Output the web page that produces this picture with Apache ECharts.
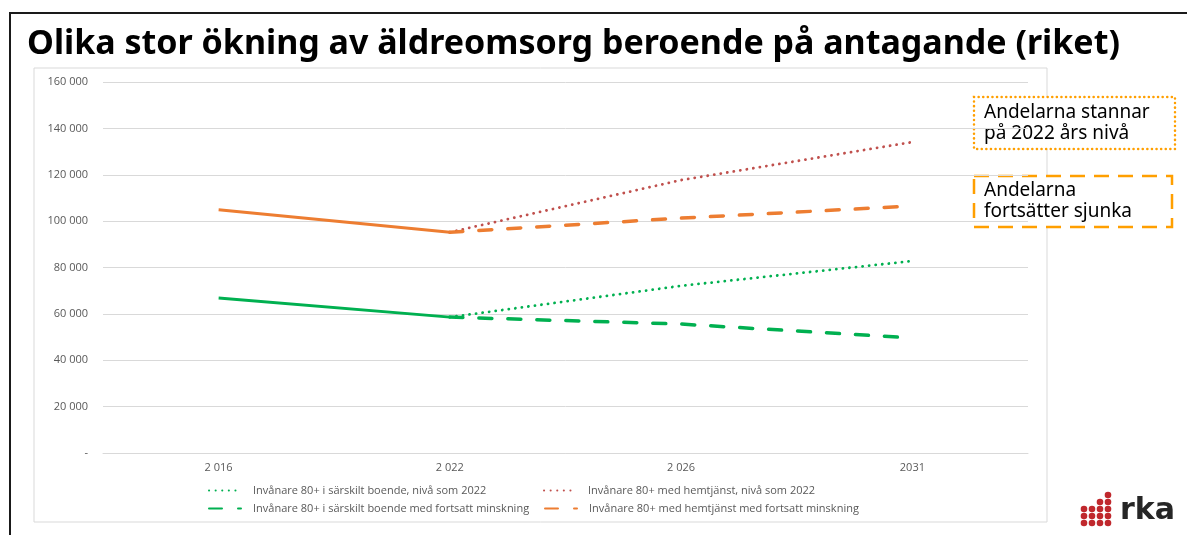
<!DOCTYPE html>
<html>
<head>
<meta charset="utf-8">
<script src="https://cdn.jsdelivr.net/npm/echarts@6/dist/echarts.min.js"></script>
<style>
  html, body { margin: 0; padding: 0; background: #fff; }
  #chart { width: 1187px; height: 535px; }
</style>
</head>
<body>
<div id="chart"></div>
<script>
// år (kategorier)
var years = ['2 016', '2 022', '2 026', '2031'];

// faktiska värden fram till 2022
var boendeHist = [66800, 58600, null, null];
var hemtjanstHist = [104900, 95200, null, null];

// prognoser från 2022
var boendeNiva = [null, 58600, 72100, 82800];
var hemtjanstNiva = [null, 95200, 117700, 134100];
var boendeMinsk = [null, 58600, 55600, 49600];
var hemtjanstMinsk = [null, 95200, 101300, 106500];

var legendNames = [
    'Invånare 80+ i särskilt boende, nivå som 2022',
    'Invånare 80+ med hemtjänst, nivå som 2022',
    'Invånare 80+ i särskilt boende med fortsatt minskning',
    'Invånare 80+ med hemtjänst med fortsatt minskning'
];

var green = '#00B050';
var orange = '#ED7D31';
var red = '#C0504D';
var boxOrange = '#FF9F00';

var chart = echarts.init(document.getElementById('chart'));

function fmt(v) {
    if (v === 0) return '-';
    return String(v).replace(/\B(?=(\d{3})+(?!\d))/g, ' ');
}

function legendAt(name, left, top) {
    return {
        data: [name],
        left: left,
        top: top,
        padding: 0,
        itemWidth: 32,
        itemHeight: 10,
        itemStyle: { opacity: 0 },
        textStyle: { color: '#595959', fontSize: 11, fontFamily: 'Open Sans', padding: [0, 0, 0, 7] }
    };
}

// logga: prickar
var dots = [];
var cols = [1084, 1092, 1100, 1108];
var counts = [3, 3, 4, 5];
cols.forEach(function(x, i) {
    for (var k = 0; k < counts[i]; k++) {
        dots.push({
            type: 'circle',
            shape: { cx: x, cy: 523 - k * 7, r: 3.3 },
            style: { fill: '#C0282D' }
        });
    }
});

var dotted = [0.1, 6.5];
var dashed = [13, 16];

var option = {
    animation: false,
    textStyle: { fontFamily: 'Open Sans' },
    title: {
        text: 'Olika stor ökning av äldreomsorg beroende på antagande (riket)',
        left: 22,
        top: 22,
        textStyle: { fontSize: 34, fontWeight: 'bold', color: '#000', fontFamily: 'Noto Sans' }
    },
    grid: { left: 103, right: 159, top: 82, bottom: 82 },
    legend: [
        legendAt(legendNames[0], 208, 485),
        legendAt(legendNames[1], 543, 485),
        legendAt(legendNames[2], 208, 503),
        legendAt(legendNames[3], 544, 503)
    ],
    xAxis: {
        type: 'category',
        data: years,
        boundaryGap: true,
        axisLine: { lineStyle: { color: '#D9D9D9' } },
        axisTick: { show: false },
        axisLabel: { color: '#595959', fontSize: 11, margin: 9 }
    },
    yAxis: {
        type: 'value',
        min: 0,
        max: 160000,
        interval: 20000,
        axisLine: { show: false },
        axisTick: { show: false },
        splitLine: { lineStyle: { color: '#D9D9D9' } },
        axisLabel: { color: '#595959', fontSize: 11, margin: 15, formatter: fmt }
    },
    graphic: [
        {
            type: 'rect',
            shape: { x: 10, y: 13, width: 1200, height: 560 },
            style: { fill: 'none', stroke: '#1a1a1a', lineWidth: 2 }
        },
        {
            type: 'rect',
            shape: { x: 34, y: 68, width: 1013, height: 454 },
            style: { fill: 'none', stroke: '#D9D9D9', lineWidth: 1 }
        },
        {
            type: 'rect',
            shape: { x: 974, y: 97, width: 201, height: 52 },
            style: { fill: '#fff', stroke: boxOrange, lineWidth: 2.5, lineDash: [0.1, 4.5], lineCap: 'round' }
        },
        {
            type: 'text',
            left: 984,
            top: 102,
            style: { text: 'Andelarna stannar\npå 2022 års nivå', fill: '#000', font: '19px "Noto Sans"', lineHeight: 21 }
        },
        {
            type: 'rect',
            shape: { x: 974, y: 176, width: 198, height: 51 },
            style: { fill: '#fff', stroke: boxOrange, lineWidth: 2.5, lineDash: [15, 9] }
        },
        {
            type: 'text',
            left: 984,
            top: 180,
            style: { text: 'Andelarna\nfortsätter sjunka', fill: '#000', font: '19px "Noto Sans"', lineHeight: 21 }
        },
        {
            type: 'group',
            children: dots
        },
        {
            type: 'text',
            left: 1120,
            top: 496,
            style: { text: 'rka', fill: '#262626', font: 'bold 30px "DejaVu Sans"' }
        }
    ],
    series: [
        {
            name: 'hist-boende',
            type: 'line',
            data: boendeHist,
            symbol: 'none',
            lineStyle: { color: green, width: 3 },
            itemStyle: { color: green },
            z: 3
        },
        {
            name: 'hist-hemtjanst',
            type: 'line',
            data: hemtjanstHist,
            symbol: 'none',
            lineStyle: { color: orange, width: 3 },
            itemStyle: { color: orange },
            z: 3
        },
        {
            name: legendNames[0],
            type: 'line',
            data: boendeNiva,
            symbol: 'none',
            lineStyle: { color: green, width: 2.8, type: dotted, cap: 'round' },
            itemStyle: { color: green }
        },
        {
            name: legendNames[1],
            type: 'line',
            data: hemtjanstNiva,
            symbol: 'none',
            lineStyle: { color: red, width: 2.8, type: dotted, cap: 'round' },
            itemStyle: { color: red }
        },
        {
            name: legendNames[2],
            type: 'line',
            data: boendeMinsk,
            symbol: 'none',
            lineStyle: { color: green, width: 3.5, type: dashed, cap: 'round' },
            itemStyle: { color: green }
        },
        {
            name: legendNames[3],
            type: 'line',
            data: hemtjanstMinsk,
            symbol: 'none',
            lineStyle: { color: orange, width: 3.5, type: dashed, cap: 'round' },
            itemStyle: { color: orange }
        }
    ]
};

chart.setOption(option);
</script>
</body>
</html>
